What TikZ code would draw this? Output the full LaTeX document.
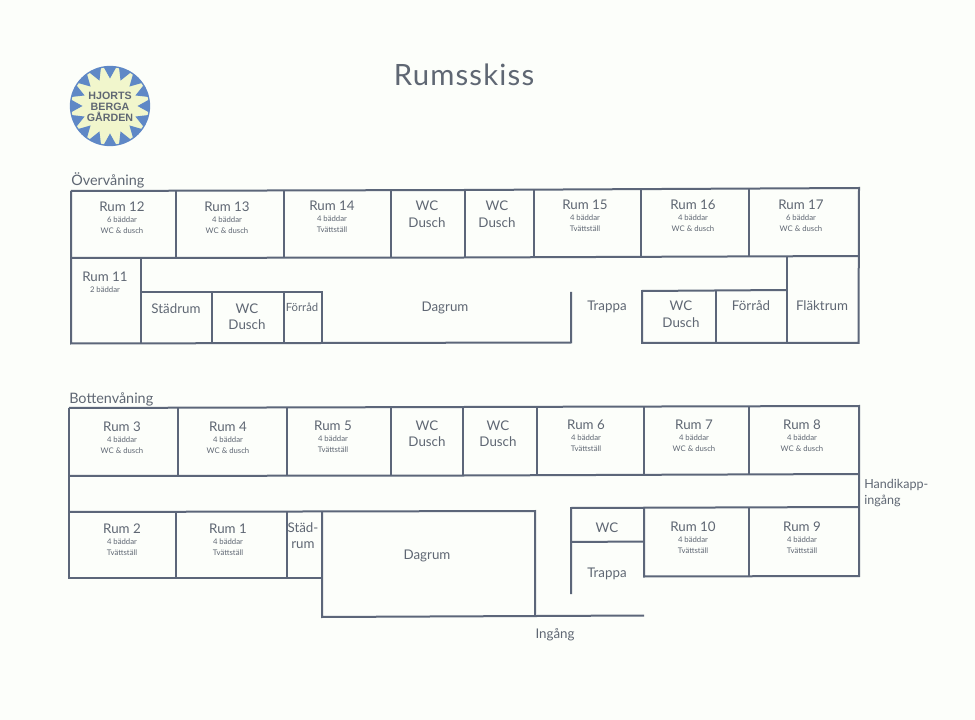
\documentclass[tikz,border=0pt]{standalone}
\usepackage{fontspec}
\usetikzlibrary{calc}
\setmainfont{Lato}
\newfontfamily\logofont{Liberation Sans}
\newfontfamily\titlefont[LetterSpace=4]{Lato}
\definecolor{paper}{HTML}{FCFEFA}
\definecolor{wall}{HTML}{5C6679}
\definecolor{ink}{HTML}{5F6773}
\definecolor{logoblue}{HTML}{5F88C6}
\definecolor{logopale}{HTML}{F1F6CC}
\tikzset{
  wallline/.style={draw=wall,line width=1.5pt,line cap=square},
  big/.style={text=ink,font=\fontsize{10}{12}\selectfont,inner sep=0pt,anchor=center,yshift=-0.4pt},
  small/.style={text=ink,font=\fontsize{5.8}{7}\selectfont,inner sep=0pt,anchor=center,yshift=-1.2pt},
  heading/.style={text=ink,font=\fontsize{10.8}{12}\selectfont,inner sep=0pt,anchor=west,yshift=-0.4pt},
  logotext/.style={text=ink,font=\logofont\bfseries\fontsize{8}{9}\selectfont,inner sep=0pt,anchor=center}
}
\newcommand{\roomthree}[6]{%
  \node[big] (#1a) at (#2,#3) {#4};
  \node[small] (#1b) at (#2,#3+12) {#5};
  \node[small] (#1c) at (#2,#3+23) {#6};
}
\newcommand{\wcdusch}[4]{%
  \node[big] (#1a) at (#2,#3) {WC};
  \node[big] (#1b) at (#2,#4) {Dusch};
}
\begin{document}
\begin{tikzpicture}[x=0.75pt,y=-0.75pt]
\useasboundingbox[fill=paper] (0,0) rectangle (975,720);

% logo
\coordinate (lc) at (110,106);
\fill[logopale] (lc) circle[radius=39.5];
\begin{scope}
\clip (lc) circle[radius=39.5];
\foreach \a in {0,22.5,...,337.5}{
  \fill[logoblue] ($(lc)+(\a-10:41)$) -- ($(lc)+(\a+10:41)$) -- ($(lc)+(\a:27.5)$) -- cycle;
}
\end{scope}
\draw[logoblue,line width=1pt] (lc) circle[radius=39.5];
\node[logotext] (logo1) at (110,96) {HJORTS};
\node[logotext] (logo2) at (110,106.5) {BERGA};
\node[logotext] (logo3) at (110,117) {GÅRDEN};

\node[text=ink,font=\titlefont\fontsize{22}{24}\selectfont,inner sep=0pt] (title) at (464,75) {Rumsskiss};

% upper floor
\node[heading] (upper) at (71,180) {Övervåning};
\draw[wallline] (71,191) -- (71,343.5) -- (571,342.5) -- (571,292);
\draw[wallline] (71,191) -- (465,190) -- (859,188) -- (858.5,343) -- (642,343) -- (642,291) -- (787,290);
\draw[wallline] (71,258) -- (465,257.5) -- (859,256);
\foreach \xx/\ya/\yb in {176/191/258,284/190.5/258,391/190/257.5,465/190/257.5,534/189.5/257,641/189/257,749/188.5/256.5}{
  \draw[wallline] (\xx,\ya) -- (\xx,\yb);
}
\draw[wallline] (141,258) -- (141,343.5);
\draw[wallline] (141,292) -- (322,292) -- (322,343);
\draw[wallline] (212,292) -- (212,343);
\draw[wallline] (284,292) -- (284,343);
\draw[wallline] (716,290.5) -- (716,343);
\draw[wallline] (787,256) -- (787,343);

\roomthree{r12}{122}{206}{Rum 12}{6 bäddar}{WC \& dusch}
\roomthree{r13}{227}{206}{Rum 13}{4 bäddar}{WC \& dusch}
\roomthree{r14}{332}{205}{Rum 14}{4 bäddar}{Tvättställ}
\wcdusch{u1}{427}{205}{222}
\wcdusch{u2}{497}{205}{222}
\roomthree{r15}{585}{204}{Rum 15}{4 bäddar}{Tvättställ}
\roomthree{r16}{693}{204}{Rum 16}{4 bäddar}{WC \& dusch}
\roomthree{r17}{801}{204}{Rum 17}{6 bäddar}{WC \& dusch}
\node[big] (r11a) at (105,276) {Rum 11};
\node[small] (r11b) at (105,288) {2 bäddar};
\node[big] (ust) at (176,308) {Städrum};
\wcdusch{u3}{247}{308}{324}
\node[big,font=\fontsize{8.5}{10}\selectfont] (uf1) at (302,307) {Förråd};
\node[big] (ud) at (445,307) {Dagrum};
\node[big] (utr) at (607,306) {Trappa};
\wcdusch{u4}{681}{305}{322}
\node[big] (uf2) at (751,305) {Förråd};
\node[big] (ufl) at (822,305) {Fläktrum};

% lower floor
\node[heading] (lower) at (69,399) {Bottenvåning};
\draw[wallline] (69,408) -- (464,407) -- (859,406) -- (859,576) -- (644,576.5) -- (644,507.5);
\draw[wallline] (69,408) -- (69,578) -- (322,578);
\draw[wallline] (69,476) -- (464,475.5) -- (859,474);
\draw[wallline] (69,512) -- (535,511) -- (535,616);
\draw[wallline] (322,511.5) -- (322,617) -- (644,615.5);
\draw[wallline] (571,594) -- (571,508) -- (859,507);
\draw[wallline] (571,542) -- (644,541.5);
\foreach \xx/\ya/\yb in {178/408/476,287/407.5/476,391/407/475.5,463/407/475.5,537/406.5/475,644/406.5/474.5,749/406/474.5,176/512/578,287/512/578,749/507/576}{
  \draw[wallline] (\xx,\ya) -- (\xx,\yb);
}

\roomthree{r3}{122}{426}{Rum 3}{4 bäddar}{WC \& dusch}
\roomthree{r4}{228}{426}{Rum 4}{4 bäddar}{WC \& dusch}
\roomthree{r5}{333}{425}{Rum 5}{4 bäddar}{Tvättställ}
\wcdusch{l1}{427}{425}{441}
\wcdusch{l2}{498}{425}{441}
\roomthree{r6}{586}{424}{Rum 6}{4 bäddar}{Tvättställ}
\roomthree{r7}{694}{424}{Rum 7}{4 bäddar}{WC \& dusch}
\roomthree{r8}{802}{424}{Rum 8}{4 bäddar}{WC \& dusch}
\roomthree{r2}{122}{528}{Rum 2}{4 bäddar}{Tvättställ}
\roomthree{r1}{228}{528}{Rum 1}{4 bäddar}{Tvättställ}
\node[big] (ls1) at (303,527) {Städ-};
\node[big] (ls2) at (303,545) {rum};
\node[big] (ld) at (427,555) {Dagrum};
\node[big] (lwc) at (607,527) {WC};
\roomthree{r10}{693}{526}{Rum 10}{4 bäddar}{Tvättställ}
\roomthree{r9}{802}{526}{Rum 9}{4 bäddar}{Tvättställ}
\node[big] (ltr) at (607,573) {Trappa};
\node[big] (ling) at (555,634) {Ingång};
\node[big,anchor=west,font=\fontsize{9.4}{11}\selectfont] (lh1) at (864,484) {Handikapp-};
\node[big,anchor=west,font=\fontsize{9.4}{11}\selectfont] (lh2) at (864,500) {ingång};
\end{tikzpicture}
\end{document}
